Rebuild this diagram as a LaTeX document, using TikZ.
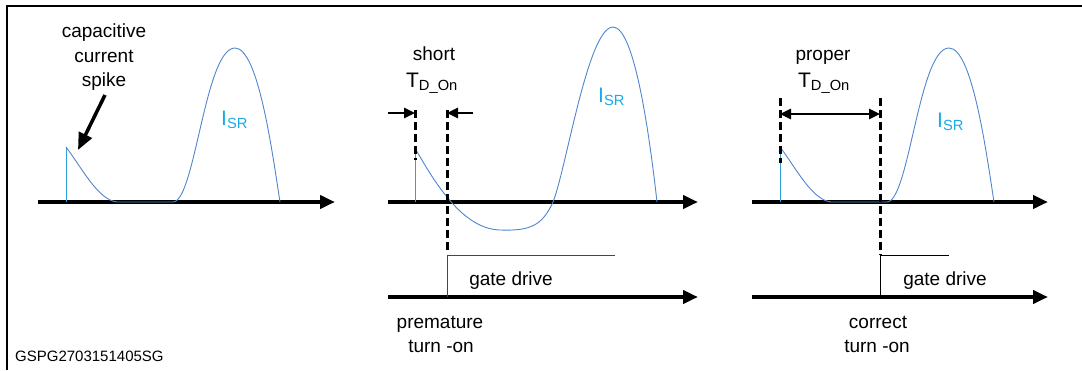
\documentclass[tikz,border=0pt]{standalone}
\usepackage{fontspec}
\setmainfont{Liberation Sans}
\usetikzlibrary{arrows.meta,positioning}
\definecolor{curveblue}{RGB}{79,134,206}
\definecolor{spikeblue}{RGB}{45,160,220}
\definecolor{isrcyan}{RGB}{25,170,230}
\definecolor{gatedark}{RGB}{70,70,70}

\begin{document}
\begin{tikzpicture}[x=1pt, y=-1pt,
        axis/.style={line width=4pt, -{Triangle[length=15pt,width=13pt]}},
        curve/.style={draw=curveblue, line width=0.9pt},
        spikeline/.style={draw=spikeblue, line width=1pt},
        marker/.style={line width=3pt, dash pattern=on 8pt off 4pt},
        gate/.style={draw=gatedark, line width=1pt},
        dim/.style={line width=2.5pt, -{Triangle[length=11pt,width=10pt]}},
        callout/.style={line width=3.5pt, -{Triangle[length=17pt,width=14pt]}},
        lbl/.style={font=\fontsize{19}{24.5}\selectfont, inner sep=0pt, align=center},
        tdlbl/.style={font=\fontsize{21}{24}\selectfont, inner sep=0pt, anchor=base},
        isr/.style={font=\fontsize{21}{24}\selectfont, text=isrcyan, inner sep=0pt, anchor=base west}
    ]
    \useasboundingbox (0,0) rectangle (1082,370);

    % frame
    \coordinate (frbl) at (7,370);
    \coordinate (frtl) at (7,5.5);
    \coordinate (frtr) at (1082,5.5);
    \draw[line width=2pt] (frbl) -- (frtl) -- (frtr);

    % current axes
    \coordinate (ax1s) at (38,202);  \coordinate (ax1e) at (335,202);
    \coordinate (ax2s) at (388,202); \coordinate (ax2e) at (698,202);
    \coordinate (ax3s) at (752,202); \coordinate (ax3e) at (1048,202);
    \draw[axis] (ax1s) -- (ax1e);
    \draw[axis] (ax2s) -- (ax2e);
    \draw[axis] (ax3s) -- (ax3e);

    % gate drive axes
    \coordinate (gd2s) at (388,297); \coordinate (gd2e) at (698,297);
    \coordinate (gd3s) at (752,297); \coordinate (gd3e) at (1048,297);
    \draw[axis] (gd2s) -- (gd2e);
    \draw[axis] (gd3s) -- (gd3e);

    % SR current, left and right panels
    \foreach \dx in {0,714} {
        \begin{scope}[xshift=\dx]
            \draw[spikeline] (66,202) -- (66,147);
            \draw[curve] (66,147) .. controls (82,168) and (98,200) .. (117,202) -- (173,202)
                .. controls (195,202) and (205,48) .. (235,48)
                .. controls (258,48) and (272,150) .. (280,202);
        \end{scope}
    }

    % SR current, middle panel (goes negative)
    \draw[spikeline] (415,202) -- (415,148);
    \draw[curve] (415,148) .. controls (438,189) and (465,229) .. (500,230)
        .. controls (530,231) and (542,226) .. (553,202)
        .. controls (566,170) and (588,27) .. (613,27)
        .. controls (635,27) and (650,140) .. (657,202);

    % labels
    \node[lbl] (spikelbl) at (104,57.5) {capacitive\\current\\spike};
    \coordinate (cs) at (105,95);
    \coordinate (ct) at (78,150);
    \draw[callout] (cs) -- (ct);

    \node[isr] (isr1) at (221,125) {I\textsubscript{SR}};
    \node[isr] (isr2) at (598,102) {I\textsubscript{SR}};
    \node[isr] (isr3) at (937,127) {I\textsubscript{SR}};

    % short dead time
    \node[lbl, anchor=base] (shortlbl) at (434,60) {short};
    \node[tdlbl] (tdshort) at (432,87) {T\textsubscript{D\_On}};
    \coordinate (shA) at (415,110); \coordinate (shAb) at (415,160);
    \coordinate (shB) at (447,110); \coordinate (shBb) at (447,252);
    \draw[marker] (shA) -- (shAb);
    \draw[marker] (shB) -- (shBb);
    \coordinate (shL) at (388,113); \coordinate (shLt) at (415,113);
    \coordinate (shR) at (473,113); \coordinate (shRt) at (447,113);
    \draw[dim] (shL) -- (shLt);
    \draw[dim] (shR) -- (shRt);

    % proper dead time
    \node[lbl, anchor=base] (properlbl) at (823,60) {proper};
    \node[tdlbl] (tdproper) at (824,87) {T\textsubscript{D\_On}};
    \coordinate (prA) at (780,98); \coordinate (prAb) at (780,163);
    \coordinate (prB) at (880,98); \coordinate (prBb) at (880,255);
    \draw[marker] (prA) -- (prAb);
    \draw[marker] (prB) -- (prBb);
    \coordinate (prL) at (780,114); \coordinate (prR) at (880,114);
    \draw[dim, {Triangle[length=11pt,width=10pt]}-{Triangle[length=11pt,width=10pt]}] (prL) -- (prR);

    % gate drive steps
    \coordinate (g2a) at (447,297); \coordinate (g2b) at (447,255); \coordinate (g2c) at (615,255);
    \draw[gate] (g2a) -- (g2b) -- (g2c);
    \coordinate (g3a) at (880,297); \coordinate (g3b) at (880,255); \coordinate (g3c) at (949,255);
    \draw[gate, draw=black] (g3a) -- (g3b) -- (g3c);
    \node[lbl, anchor=base] (gate2) at (511,285) {gate drive};
    \node[lbl, anchor=base] (gate3) at (945,285) {gate drive};

    % turn-on captions
    \node[lbl, anchor=base] (prem) at (440,328) {premature};
    \node[lbl, anchor=base] (premon) at (441,352) {turn -on};
    \node[lbl, anchor=base] (corr) at (878,328) {correct};
    \node[lbl, anchor=base] (corron) at (877,352) {turn -on};

    \node[font=\fontsize{15}{18}\selectfont, inner sep=0pt, anchor=base west] (figcode) at (15,361) {GSPG2703151405SG};
\end{tikzpicture}
\end{document}
